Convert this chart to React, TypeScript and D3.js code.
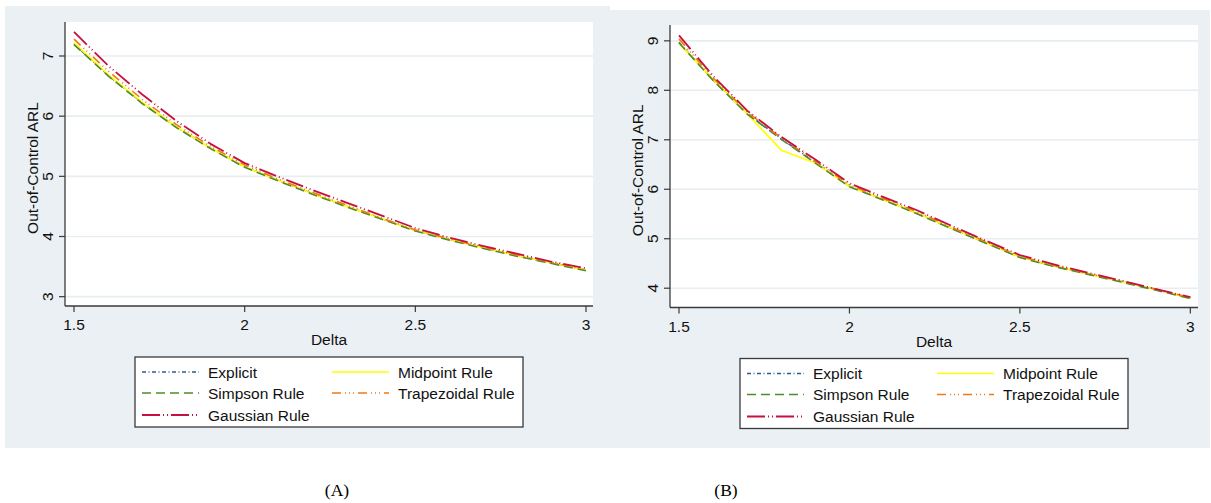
import React from "react";
import * as d3 from "d3";

// ---------- data ----------
const DELTA = [1.5, 1.6, 1.7, 1.8, 1.9, 2.0, 2.1, 2.2, 2.3, 2.4, 2.5, 2.6, 2.7, 2.8, 2.9, 3.0];
const X_TICKS = [1.5, 2, 2.5, 3];
const X_TICK_LABELS = ["1.5", "2", "2.5", "3"];
const A_Y_TICKS = [3, 4, 5, 6, 7];
const B_Y_TICKS = [4, 5, 6, 7, 8, 9];
const SERIES_NAMES = ["Explicit", "Midpoint Rule", "Simpson Rule", "Trapezoidal Rule", "Gaussian Rule"];
const X_TITLE = "Delta";
const Y_TITLE = "Out-of-Control ARL";
const PANEL_LABELS = ["(A)", "(B)"];

// Panel A
const A_EXPLICIT = [7.2, 6.68, 6.22, 5.82, 5.47, 5.16, 4.93, 4.71, 4.5, 4.3, 4.1, 3.95, 3.81, 3.68, 3.56, 3.44];
const A_MIDPOINT = [7.22, 6.69, 6.23, 5.82, 5.47, 5.16, 4.93, 4.71, 4.5, 4.3, 4.1, 3.95, 3.81, 3.68, 3.56, 3.44];
const A_SIMPSON = [7.19, 6.67, 6.21, 5.81, 5.46, 5.15, 4.92, 4.7, 4.49, 4.29, 4.09, 3.94, 3.8, 3.67, 3.55, 3.43];
const A_TRAPEZOIDAL = [7.28, 6.75, 6.28, 5.86, 5.5, 5.19, 4.95, 4.73, 4.52, 4.31, 4.11, 3.96, 3.82, 3.69, 3.57, 3.45];
const A_GAUSSIAN = [7.4, 6.84, 6.36, 5.92, 5.54, 5.22, 4.99, 4.77, 4.56, 4.35, 4.14, 3.98, 3.84, 3.71, 3.58, 3.47];

// Panel B
const B_EXPLICIT = [8.97, 8.21, 7.53, 7.02, 6.54, 6.06, 5.79, 5.51, 5.21, 4.92, 4.63, 4.45, 4.29, 4.13, 3.97, 3.8];
const B_MIDPOINT = [8.95, 8.22, 7.53, 6.79, 6.53, 6.06, 5.79, 5.51, 5.21, 4.92, 4.63, 4.45, 4.29, 4.13, 3.97, 3.8];
const B_SIMPSON = [8.96, 8.2, 7.52, 7.01, 6.53, 6.05, 5.78, 5.5, 5.2, 4.91, 4.62, 4.44, 4.28, 4.12, 3.96, 3.79];
const B_TRAPEZOIDAL = [9.04, 8.25, 7.56, 7.04, 6.57, 6.09, 5.81, 5.54, 5.23, 4.94, 4.65, 4.46, 4.3, 4.14, 3.98, 3.81];
const B_GAUSSIAN = [9.11, 8.29, 7.59, 7.06, 6.6, 6.12, 5.84, 5.57, 5.26, 4.96, 4.67, 4.48, 4.31, 4.15, 3.98, 3.82];

// ---------- styles ----------
const SERIES_STYLE: Record<string, { color: string; dash: string; width: number }> = {
  "Explicit": { color: "#2f5b8c", dash: "4,2.5,1,2.5", width: 1.5 },
  "Midpoint Rule": { color: "#ffff00", dash: "", width: 1.7 },
  "Simpson Rule": { color: "#4f8a2e", dash: "9,5", width: 1.6 },
  "Trapezoidal Rule": { color: "#f27a12", dash: "9,4,1,3,1,3,1,4", width: 1.6 },
  "Gaussian Rule": { color: "#c8103e", dash: "18,3,1,3,1,3", width: 1.8 },
};

const BG = "#eaf0f3";
const GRID = "#e6eef1";
const AXIS = "#3a3a3a";
const FONT = "'Liberation Sans', Arial, sans-serif";
const FS = 15.5;

type Layout = {
  bg: [number, number, number, number];
  plot: [number, number, number, number]; // l, t, r, b
  xDomain: [number, number];
  yDomain: [number, number];
  yTicks: number[];
};

const LAYOUT_A: Layout = {
  bg: [5, 6, 605, 442],
  plot: [65, 22, 593, 306],
  xDomain: [1.4736, 3.0205],
  yDomain: [2.845, 7.565],
  yTicks: A_Y_TICKS,
};
const LAYOUT_B: Layout = {
  bg: [610, 10, 600, 438],
  plot: [670, 25, 1198, 307.5],
  xDomain: [1.4736, 3.0225],
  yDomain: [3.61, 9.32],
  yTicks: B_Y_TICKS,
};

function Panel({ layout, series }: { layout: Layout; series: number[][] }) {
  const [l, t, r, b] = layout.plot;
  const x = d3.scaleLinear().domain(layout.xDomain).range([l, r]);
  const y = d3.scaleLinear().domain(layout.yDomain).range([b, t]);
  const line = d3
    .line<number>()
    .x((_, i) => x(DELTA[i]))
    .y((v) => y(v));
  const midY = (t + b) / 2;
  const midX = (l + r) / 2;
  const lx = l + 70;
  const ly = b + 51;
  const rows = [15, 36, 58];
  const legendPos = [
    [0, 0],
    [1, 0],
    [0, 1],
    [1, 1],
    [0, 2],
  ];
  return (
    <g>
      <rect x={layout.bg[0]} y={layout.bg[1]} width={layout.bg[2]} height={layout.bg[3]} fill={BG} />
      <rect x={l} y={t} width={r - l} height={b - t} fill="#ffffff" />
      {layout.yTicks.map((v) => (
        <line key={"g" + v} x1={l} x2={r} y1={y(v)} y2={y(v)} stroke={GRID} strokeWidth={1.6} />
      ))}
      <g>
        {series.map((s, i) => {
          const st = SERIES_STYLE[SERIES_NAMES[i]];
          return (
            <path
              key={i}
              d={line(s) || ""}
              fill="none"
              stroke={st.color}
              strokeWidth={st.width}
              strokeDasharray={st.dash || undefined}
              strokeLinejoin="round"
            />
          );
        })}
      </g>
      <line x1={l} x2={l} y1={t} y2={b} stroke={AXIS} strokeWidth={1.3} />
      <line x1={l} x2={r} y1={b} y2={b} stroke={AXIS} strokeWidth={1.3} />
      {layout.yTicks.map((v) => (
        <g key={"yt" + v}>
          <line x1={l - 6} x2={l} y1={y(v)} y2={y(v)} stroke={AXIS} strokeWidth={1.2} />
          <text
            transform={`translate(${l - 12},${y(v)}) rotate(-90)`}
            textAnchor="middle"
            fontFamily={FONT}
            fontSize={FS}
            fill="#111"
          >
            {String(v)}
          </text>
        </g>
      ))}
      {X_TICKS.map((v, i) => (
        <g key={"xt" + v}>
          <line x1={x(v)} x2={x(v)} y1={b} y2={b + 6} stroke={AXIS} strokeWidth={1.2} />
          <text x={x(v)} y={b + 24} textAnchor="middle" fontFamily={FONT} fontSize={FS} fill="#111">
            {X_TICK_LABELS[i]}
          </text>
        </g>
      ))}
      <text x={midX} y={b + 39} textAnchor="middle" fontFamily={FONT} fontSize={FS} fill="#111">
        {X_TITLE}
      </text>
      <text
        transform={`translate(${l - 27},${midY + 4}) rotate(-90)`}
        textAnchor="middle"
        fontFamily={FONT}
        fontSize={FS}
        fill="#111"
      >
        {Y_TITLE}
      </text>
      <rect x={lx} y={ly} width={388} height={70} fill="#ffffff" stroke={AXIS} strokeWidth={1.3} />
      {SERIES_NAMES.map((name, i) => {
        const [c, rIdx] = legendPos[i];
        const st = SERIES_STYLE[name];
        const x0 = lx + (c === 0 ? 7 : 197);
        const yy = ly + rows[rIdx];
        return (
          <g key={name}>
            <line
              x1={x0}
              x2={x0 + 57}
              y1={yy}
              y2={yy}
              stroke={st.color}
              strokeWidth={st.width}
              strokeDasharray={st.dash || undefined}
            />
            <text x={x0 + 66} y={yy} dominantBaseline="central" fontFamily={FONT} fontSize={FS} fill="#111">
              {name}
            </text>
          </g>
        );
      })}
    </g>
  );
}

export default function App() {
  const seriesA = [A_EXPLICIT, A_MIDPOINT, A_SIMPSON, A_TRAPEZOIDAL, A_GAUSSIAN];
  const seriesB = [B_EXPLICIT, B_MIDPOINT, B_SIMPSON, B_TRAPEZOIDAL, B_GAUSSIAN];
  return (
    <svg
      width={1211}
      height={503}
      style={{ position: "absolute", left: 0, top: 0, background: "#ffffff" }}
    >
      <rect x={0} y={0} width={1211} height={503} fill="#ffffff" />
      <Panel layout={LAYOUT_A} series={seriesA} />
      <Panel layout={LAYOUT_B} series={seriesB} />
      <text x={337} y={496} textAnchor="middle" fontFamily="'Liberation Serif', 'Times New Roman', serif" fontSize={17.5} fill="#000">
        {PANEL_LABELS[0]}
      </text>
      <text x={726} y={496} textAnchor="middle" fontFamily="'Liberation Serif', 'Times New Roman', serif" fontSize={17.5} fill="#000">
        {PANEL_LABELS[1]}
      </text>
    </svg>
  );
}
